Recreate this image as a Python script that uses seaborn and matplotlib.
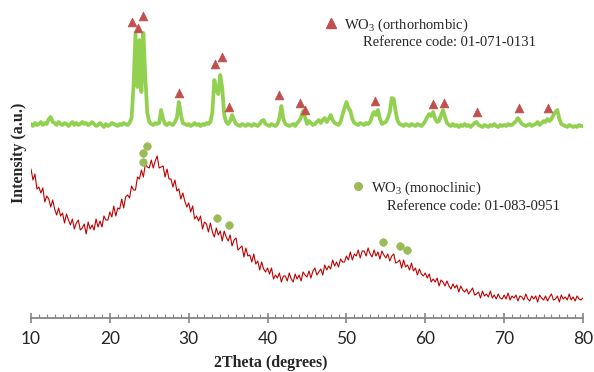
import numpy as np
import matplotlib
matplotlib.use("Agg")
import matplotlib.pyplot as plt
from matplotlib.lines import Line2D
import seaborn as sns

# ---------------- data ----------------
two_theta = np.arange(10, 80.001, 0.25)

# as-deposited film (amorphous/monoclinic), intensity a.u.
red_curve = [
    149, 138, 144, 129, 131, 125, 130, 116, 122, 119, 111, 118, 109, 103, 110, 102,
    105, 95, 104, 98, 93, 99, 89, 95, 98, 88, 90, 94, 84, 96, 89, 93,
    88, 99, 91, 97, 91, 102, 98, 98,
    106, 101, 112, 102, 110, 109, 119, 110, 121, 123, 120, 132, 128, 128, 141, 139,
    148, 141, 154, 151, 150, 158, 150, 157, 162, 150, 151, 152, 141, 149, 139, 139,
    131, 138, 127, 129, 119, 125, 117, 111,
    115, 106, 112, 99, 102, 97, 102, 89, 96, 94, 86, 95, 86, 81, 90, 83,
    87, 77, 87, 81, 77, 83, 72, 78, 80, 68, 70, 72, 61, 70, 62, 63,
    56, 64, 54, 57, 48, 56, 49, 46,
    50, 44, 50, 39, 43, 40, 45, 36, 42, 42, 37, 45, 39, 36, 44, 39,
    43, 37, 46, 43, 41, 47, 40, 47, 50, 43, 46, 49, 43, 53, 48, 52,
    49, 58, 52, 56, 51, 59, 56, 56,
    62, 58, 66, 58, 64, 62, 68, 60, 67, 67, 62, 70, 64, 61, 68, 62,
    66, 59, 67, 63, 60, 64, 57, 62, 64, 55, 56, 58, 50, 58, 51, 53,
    48, 55, 47, 50, 43, 49, 44, 42,
    45, 40, 44, 36, 39, 36, 40, 32, 38, 36, 32, 37, 32, 29, 34, 30,
    33, 26, 32, 28, 26, 29, 24, 27, 30, 23, 24, 26, 20, 27, 22, 24,
    21, 27, 20, 23, 19, 24, 20, 19,
    23, 19, 25, 18, 22, 20, 23, 17, 22, 21, 18, 24, 19, 17, 22, 19,
    22, 16, 23, 20, 18, 22, 17, 21, 24, 18, 19, 22, 16, 23, 19, 21,
    18, 24, 18, 21, 17, 22, 19, 18,
    20,
]

# annealed film (orthorhombic), intensity a.u.
green_curve = [
    194, 192, 195, 193, 194, 196, 193, 195, 194, 199, 201, 196, 195, 193, 196, 194,
    193, 195, 194, 192, 194, 196, 193, 195, 193, 194, 196, 194, 195, 193, 194, 196,
    194, 192, 193, 195, 193, 191, 194, 192, 193, 195, 194, 193, 192, 194, 193, 195,
    194, 193, 195, 200, 232, 284, 231, 278, 226, 285, 240, 205, 196, 194, 193, 195,
    194, 195, 208, 199, 194, 193, 195, 194, 193, 196, 200, 216, 204, 195, 194, 193,
    194, 192, 193, 195, 193, 194, 192, 194, 193, 195, 194, 196, 206, 238, 228, 224,
    243, 230, 203, 196, 194, 197, 203, 198, 194, 193, 192, 194, 193, 192, 194, 193,
    192, 194, 193, 192, 194, 197, 198, 194, 193, 192, 194, 193, 192, 194, 200, 212,
    199, 194, 193, 192, 193, 194, 192, 195, 197, 201, 207, 201, 194, 197, 195, 193,
    194, 196, 198, 195, 198, 200, 196, 199, 203, 198, 195, 194, 193, 196, 203, 210,
    216, 210, 207, 199, 195, 194, 193, 195, 194, 193, 195, 194, 196, 202, 206, 203,
    208, 199, 194, 195, 196, 200, 206, 220, 219, 206, 197, 194, 193, 192, 194, 193,
    192, 194, 193, 192, 194, 193, 192, 194, 197, 201, 204, 202, 206, 199, 196, 197,
    203, 208, 201, 195, 193, 192, 194, 192, 193, 191, 193, 192, 194, 192, 193, 191,
    193, 195, 196, 193, 192, 191, 193, 192, 191, 193, 192, 194, 192, 191, 193, 192,
    193, 192, 194, 193, 193, 195, 197, 200, 197, 194, 193, 192, 193, 194, 192, 193,
    194, 196, 193, 195, 197, 196, 199, 197, 199, 203, 206, 208, 199, 194, 193, 192,
    191, 193, 192, 191, 192, 191, 193, 192, 192,
]

# reference peak markers
ortho_pos = [22.85, 23.55, 24.15, 28.75, 33.3, 34.25, 35.15, 41.45, 44.1, 44.75,
             53.6, 60.95, 62.4, 66.5, 71.9, 75.5]
ortho_h = [296, 290, 302, 225, 254, 261, 211, 223, 215, 208,
           217, 214, 215, 206, 210, 210]
mono_pos = [24.15, 24.15, 24.7, 33.55, 35.1, 54.65, 56.8, 57.7]
mono_h = [156, 165, 172, 100, 93, 76, 72, 68]

ortho_label = "WO$_3$ (orthorhombic)"
ortho_code = "Reference code: 01-071-0131"
mono_label = "WO$_3$ (monoclinic)"
mono_code = "Reference code: 01-083-0951"
x_ticks = [10, 20, 30, 40, 50, 60, 70, 80]

# ---------------- style ----------------
sns.set_style("white")
plt.rcParams["font.family"] = ["Liberation Serif", "DejaVu Serif"]
plt.rcParams["mathtext.fontset"] = "custom"
plt.rcParams["mathtext.rm"] = "Liberation Serif"
plt.rcParams["mathtext.default"] = "regular"

GREEN = "#92D050"
RED = "#C00000"
TRI = "#C0504D"
DOT = "#9BBB59"
GRAY = "#868686"

W, H = 594, 372
fig = plt.figure(figsize=(W / 100, H / 100), dpi=100)
ax = fig.add_axes([31 / W, (H - 318) / H, (583 - 31) / W, 318 / H])

sns.lineplot(x=two_theta, y=green_curve, color=GREEN, lw=2.7, ax=ax,
             estimator=None, sort=False)
sns.lineplot(x=two_theta, y=red_curve, color=RED, lw=0.8, ax=ax,
             estimator=None, sort=False)
sns.scatterplot(x=ortho_pos, y=ortho_h, marker="^", s=40, color=TRI,
                edgecolor=TRI, linewidth=0.5, ax=ax, zorder=5)
sns.scatterplot(x=mono_pos, y=mono_h, marker="o", s=30, color=DOT,
                edgecolor=DOT, linewidth=0.5, ax=ax, zorder=5)

ax.set_xlim(10, 80)
ax.set_ylim(0, 318)
ax.set_yticks([])
ax.set_xticks(x_ticks)
ax.set_xticks(np.arange(10, 81, 1), minor=True)
for s in ["top", "right", "left"]:
    ax.spines[s].set_visible(False)
ax.spines["bottom"].set_color(GRAY)
ax.spines["bottom"].set_linewidth(1.3)
ax.tick_params(axis="x", which="major", direction="inout", length=7, width=1.2,
               color=GRAY, pad=6, labelsize=12.5, bottom=True)
ax.tick_params(axis="x", which="minor", direction="in", length=3, width=0.8,
               color=GRAY, bottom=True)
for lab in ax.get_xticklabels():
    lab.set_fontfamily(["Lato", "DejaVu Sans"])
ax.set_xlabel("")
ax.set_ylabel("")
ax.patch.set_alpha(0)

fig.text(271 / W, 1 - 363 / H, "2Theta (degrees)", ha="center", va="center",
         fontsize=11.5, fontweight="bold")
fig.text(19 / W, 1 - 153 / H, "Intensity (a.u.)", ha="center", va="center",
         rotation=90, fontsize=11.5, fontweight="bold")

h1 = Line2D([], [], ls="none", marker="^", ms=6.5, color=TRI)
h2 = Line2D([], [], ls="none", marker="o", ms=5.5, color=DOT)
leg1 = ax.legend([h1], [ortho_label], loc="center left",
                 bbox_to_anchor=(325.5 / W, 1 - 25 / H), bbox_transform=fig.transFigure,
                 frameon=False, borderpad=0, handlelength=0.8, handletextpad=0.45,
                 fontsize=10.5, borderaxespad=0)
ax.add_artist(leg1)
leg2 = ax.legend([h2], [mono_label], loc="center left",
                 bbox_to_anchor=(352.5 / W, 1 - 188 / H), bbox_transform=fig.transFigure,
                 frameon=False, borderpad=0, handlelength=0.8, handletextpad=0.45,
                 fontsize=10.5, borderaxespad=0)
fig.text(363 / W, 1 - 43 / H, ortho_code, ha="left", va="center", fontsize=10.5)
fig.text(387 / W, 1 - 207 / H, mono_code, ha="left", va="center", fontsize=10.5)

fig.savefig("out.png", dpi=100)
